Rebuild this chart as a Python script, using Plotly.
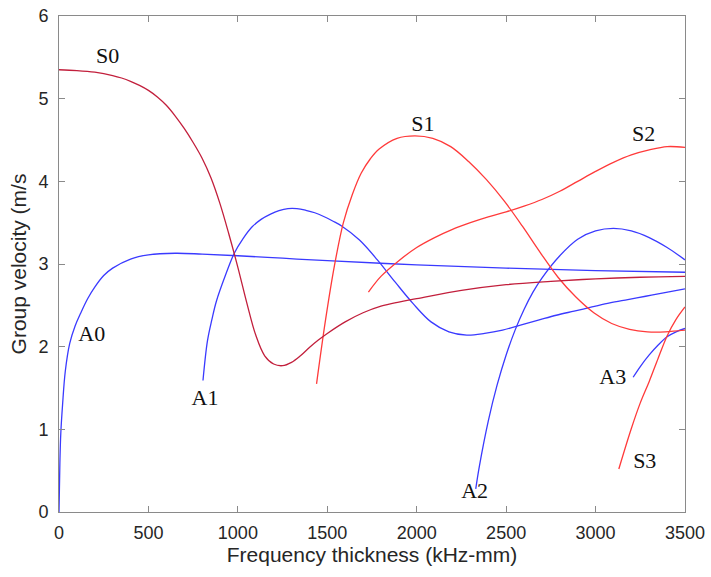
import plotly.graph_objects as go

# ---- data ----
a0_x = [0, 5, 10, 20, 35, 60, 90, 120, 160, 200, 250, 300, 400, 500, 650, 800, 1000, 1250, 1500, 2000, 2500, 3000, 3500]
a0_y = [0, 0.6, 0.95, 1.3, 1.7, 2.04, 2.25, 2.4, 2.58, 2.72, 2.86, 2.95, 3.06, 3.11, 3.13, 3.12, 3.10, 3.07, 3.04, 2.99, 2.95, 2.92, 2.90]

s0_x = [0, 100, 200, 300, 350, 400, 450, 500, 550, 600, 650, 700, 750, 800, 850, 900, 950, 1000, 1050, 1100, 1150, 1200, 1250, 1300, 1350, 1400, 1450, 1500, 1600, 1700, 1800, 1900, 2000, 2250, 2500, 2750, 3000, 3250, 3500]
s0_y = [5.35, 5.34, 5.32, 5.28, 5.25, 5.21, 5.16, 5.10, 5.02, 4.92, 4.79, 4.64, 4.47, 4.28, 4.04, 3.73, 3.36, 2.96, 2.53, 2.14, 1.89, 1.79, 1.77, 1.81, 1.89, 1.99, 2.08, 2.16, 2.30, 2.41, 2.49, 2.54, 2.58, 2.68, 2.75, 2.79, 2.82, 2.84, 2.85]

a1_x = [805, 830, 855, 880, 930, 980, 1030, 1080, 1130, 1180, 1230, 1280, 1330, 1380, 1430, 1480, 1530, 1580, 1680, 1780, 1880, 1980, 2080, 2180, 2280, 2380, 2480, 2580, 2680, 2780, 2880, 2980, 3080, 3180, 3280, 3380, 3500]
a1_y = [1.59, 2.07, 2.33, 2.55, 2.86, 3.13, 3.31, 3.45, 3.54, 3.60, 3.645, 3.67, 3.67, 3.65, 3.62, 3.575, 3.52, 3.46, 3.29, 3.05, 2.78, 2.52, 2.30, 2.18, 2.14, 2.16, 2.20, 2.26, 2.32, 2.38, 2.43, 2.48, 2.53, 2.57, 2.61, 2.65, 2.70]

s1_x = [1440, 1490, 1540, 1590, 1640, 1690, 1740, 1790, 1890, 1990, 2090, 2190, 2290, 2390, 2490, 2590, 2690, 2790, 2890, 2990, 3090, 3190, 3290, 3390, 3500]
s1_y = [1.55, 2.32, 2.98, 3.50, 3.84, 4.10, 4.27, 4.39, 4.52, 4.55, 4.52, 4.42, 4.24, 4.02, 3.76, 3.46, 3.14, 2.84, 2.60, 2.41, 2.28, 2.21, 2.18, 2.18, 2.20]

s2_x = [1730, 1800, 1900, 2000, 2100, 2200, 2300, 2400, 2500, 2600, 2700, 2800, 2900, 3000, 3100, 3200, 3300, 3400, 3500]
s2_y = [2.66, 2.85, 3.04, 3.20, 3.32, 3.42, 3.50, 3.57, 3.63, 3.70, 3.78, 3.88, 4.00, 4.12, 4.23, 4.32, 4.38, 4.42, 4.41]

a2_x = [2330, 2350, 2400, 2450, 2500, 2550, 2600, 2650, 2700, 2800, 2900, 3000, 3100, 3200, 3300, 3400, 3500]
a2_y = [0.28, 0.55, 1.10, 1.54, 1.90, 2.20, 2.45, 2.66, 2.83, 3.10, 3.30, 3.40, 3.43, 3.40, 3.32, 3.20, 3.05]

a3_x = [3210, 3250, 3300, 3350, 3400, 3450, 3500]
a3_y = [1.63, 1.76, 1.90, 2.02, 2.12, 2.18, 2.22]

s3_x = [3130, 3200, 3250, 3300, 3350, 3400, 3450, 3500]
s3_y = [0.52, 1.01, 1.32, 1.58, 1.86, 2.13, 2.33, 2.48]

label_text = ["S0", "A0", "A1", "S1", "S2", "A2", "A3", "S3"]
label_x = [272, 183, 816, 2034, 3269, 2324, 3096, 3275]
label_y = [5.50, 2.13, 1.36, 4.67, 4.55, 0.23, 1.62, 0.60]

x_ticks = [0, 500, 1000, 1500, 2000, 2500, 3000, 3500]
y_ticks = [0, 1, 2, 3, 4, 5, 6]

BLUE = "#3a3aff"
RED = "#ff3a3a"
DARKRED = "#c21f3c"

fig = go.Figure()
series = [
    (a0_x, a0_y, BLUE),
    (a1_x, a1_y, BLUE),
    (a2_x, a2_y, BLUE),
    (a3_x, a3_y, BLUE),
    (s1_x, s1_y, RED),
    (s2_x, s2_y, RED),
    (s3_x, s3_y, RED),
    (s0_x, s0_y, DARKRED),
]
for xs, ys, c in series:
    fig.add_trace(go.Scatter(x=xs, y=ys, mode="lines",
                             line=dict(color=c, width=1.3, shape="spline", smoothing=1.0),
                             showlegend=False, hoverinfo="skip"))

fig.add_trace(go.Scatter(x=label_x, y=label_y, mode="text", text=label_text,
                         textfont=dict(family="Liberation Serif", size=22, color="#111111"),
                         showlegend=False, hoverinfo="skip", cliponaxis=False))

axis_common = dict(showgrid=False, zeroline=False, showline=True, linecolor="#8a8a8a",
                   linewidth=1, mirror="ticks", ticks="inside", ticklen=6,
                   tickcolor="#8a8a8a", automargin=False,
                   tickfont=dict(family="Arial", size=18, color="#262626"))

fig.update_layout(
    width=711, height=577,
    margin=dict(l=59, r=26, t=16, b=65),
    paper_bgcolor="white", plot_bgcolor="white",
    xaxis=dict(range=[0, 3500], tickvals=x_ticks, ticklabelstandoff=4,
               title=dict(text="Frequency thickness (kHz-mm)", font=dict(family="Arial", size=21, color="#262626"), standoff=2),
               **axis_common),
    yaxis=dict(range=[0, 6], tickvals=y_ticks, ticklabelstandoff=6,
               title=dict(text="Group velocity (m/s", font=dict(family="Arial", size=21, color="#262626"), standoff=6),
               **axis_common),
)

fig.write_html("out.html", config={"displayModeBar": False},
               post_script="document.body.style.margin='0';document.body.style.overflow='hidden';")
